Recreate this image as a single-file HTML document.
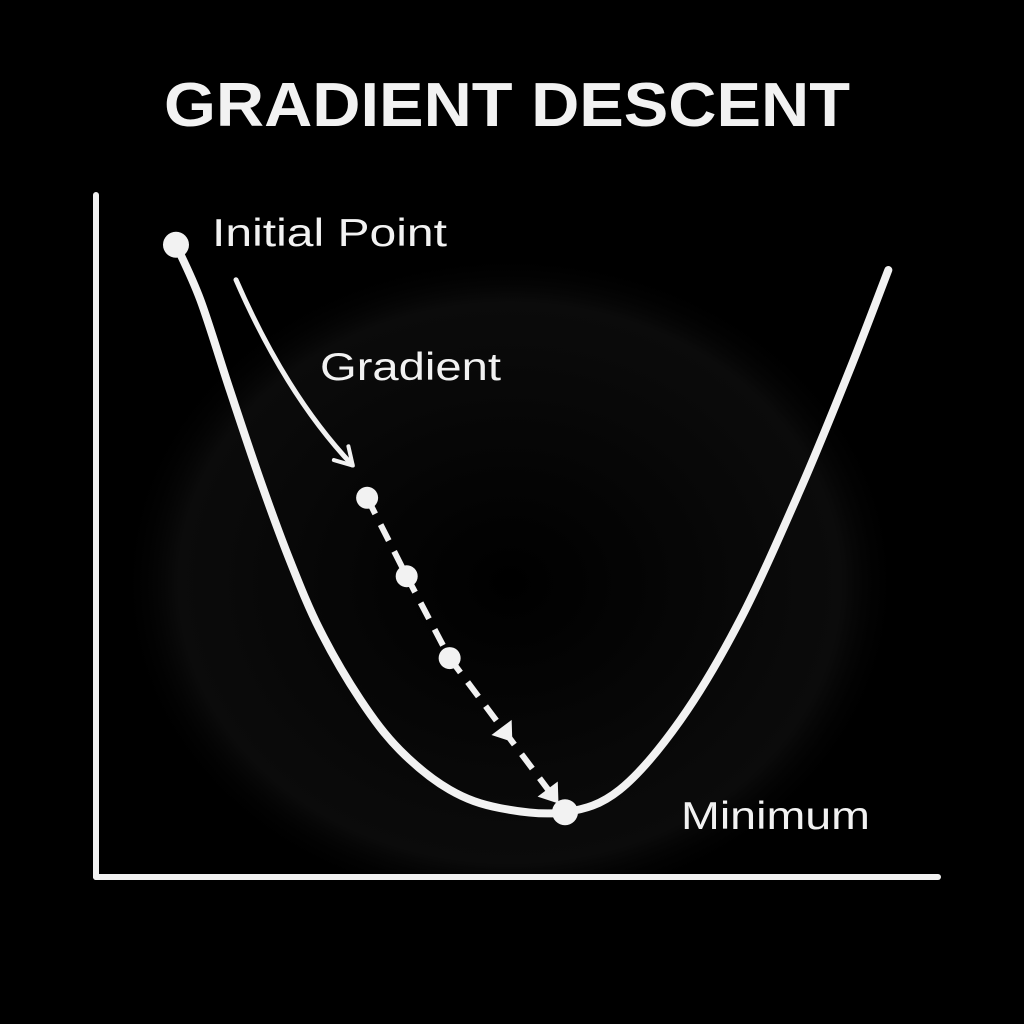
<!DOCTYPE html>
<html><head><meta charset="utf-8"><style>
html,body{margin:0;padding:0;background:#000;}
svg{display:block;}
text{font-family:"Liberation Sans",sans-serif;fill:#f2f2f2;}
</style></head><body>
<svg id="chart" width="1024" height="1024" viewBox="0 0 1024 1024">
<defs>
<radialGradient id="glow" cx="0.5" cy="0.55" r="0.5">
<stop offset="0" stop-color="#000"/><stop offset="0.6" stop-color="#080808"/><stop offset="0.85" stop-color="#0b0b0b"/><stop offset="1" stop-color="#000" stop-opacity="0"/>
</radialGradient>
<marker id="ah" markerWidth="26" markerHeight="26" refX="20" refY="13" orient="auto" markerUnits="userSpaceOnUse" viewBox="0 0 26 26">
<path d="M4,3 L21,13 L4,23" fill="none" stroke="#f2f2f2" stroke-width="4" stroke-linecap="round" stroke-linejoin="round"/>
</marker>
</defs>
<rect width="1024" height="1024" fill="#000"/>
<text x="507" y="126" text-anchor="middle" font-size="62" font-weight="bold" textLength="686" lengthAdjust="spacingAndGlyphs">GRADIENT DESCENT</text>
<g id="plot"></g>
<line x1="96" y1="195" x2="96" y2="877" stroke="#f2f2f2" stroke-width="6" stroke-linecap="round"/>
<line x1="96" y1="877" x2="938" y2="877" stroke="#f2f2f2" stroke-width="6" stroke-linecap="round"/>
<text x="212" y="246" font-size="39" textLength="235" lengthAdjust="spacingAndGlyphs">Initial Point</text>
<text x="320" y="380" font-size="39" textLength="181" lengthAdjust="spacingAndGlyphs">Gradient</text>
<text x="681" y="829" font-size="39" textLength="189" lengthAdjust="spacingAndGlyphs">Minimum</text>
</svg>
<script>
const curveX=[0.95,1.24,1.59,1.95,2.30,2.66,3.14,3.61,4.20,4.80,5.57,6.22,6.94,7.65,8.36,8.95,9.41];
const curveY=[9.27,8.46,7.14,5.82,4.65,3.62,2.60,1.86,1.28,1.01,0.95,1.28,2.30,3.77,5.67,7.43,8.90];
const stepX=[0.95,3.22,3.69,4.20,5.57];
const stepY=[9.27,5.56,4.41,3.21,0.95];
const sx=v=>96+v*84.2, sy=v=>877-v*68.2;
const NS='http://www.w3.org/2000/svg';
const plot=document.getElementById('plot');
function mk(t,a){const e=document.createElementNS(NS,t);for(const k in a)e.setAttribute(k,a[k]);plot.appendChild(e);return e;}
const g=mk('rect',{x:120,y:220,width:780,height:660,fill:'url(#glow)'});


const P=curveX.map((x,i)=>[sx(x),sy(curveY[i])]);
let d='M'+P[0][0]+','+P[0][1];
for(let i=0;i<P.length-1;i++){const p0=P[Math.max(0,i-1)],p1=P[i],p2=P[i+1],p3=P[Math.min(P.length-1,i+2)];
d+=` C${p1[0]+(p2[0]-p0[0])/6},${p1[1]+(p2[1]-p0[1])/6} ${p2[0]-(p3[0]-p1[0])/6},${p2[1]-(p3[1]-p1[1])/6} ${p2[0]},${p2[1]}`;}
const c=mk('path',{d:d,fill:'none',stroke:'#f2f2f2','stroke-width':8,'stroke-linecap':'round'});


const ga=mk('path',{d:`M${sx(stepX[0])+60},${sy(stepY[0])+35} Q${sx(stepX[0])+110},${sy(stepY[0])+150} ${sx(stepX[1])-15},${sy(stepY[1])-33}`,fill:'none',stroke:'#f2f2f2','stroke-width':5,'stroke-linecap':'round','marker-end':'url(#ah)'});


for(let i=1;i<stepX.length-1;i++){
 const x1=sx(stepX[i]),y1=sy(stepY[i]),x2=sx(stepX[i+1]),y2=sy(stepY[i+1]);
 const L=mk('line',{x1,y1,x2,y2,stroke:'#f2f2f2','stroke-width':6,'stroke-dasharray':'18 12'});
 
 
}
const ax1=sx(stepX[3]),ay1=sy(stepY[3]),ax2=sx(stepX[4]),ay2=sy(stepY[4]);
[0.45,0.85].forEach((t,j)=>{
 const x=ax1+(ax2-ax1)*t,y=ay1+(ay2-ay1)*t,ang=Math.atan2(ay2-ay1,ax2-ax1);
 const ca=Math.cos(ang),sa=Math.sin(ang),s=18;
 const tri=mk('polygon',{points:`${x+ca*s},${y+sa*s} ${x-sa*s*0.7},${y+ca*s*0.7} ${x+sa*s*0.7},${y-ca*s*0.7}`,fill:'#f2f2f2'});
 
 
});
stepX.forEach((x,i)=>{
 const r=(i===0||i===stepX.length-1)?13:11;
 const p=mk('circle',{cx:sx(x),cy:sy(stepY[i]),r:r,fill:'#f2f2f2'});
 
 
});
</script>
</body></html>
